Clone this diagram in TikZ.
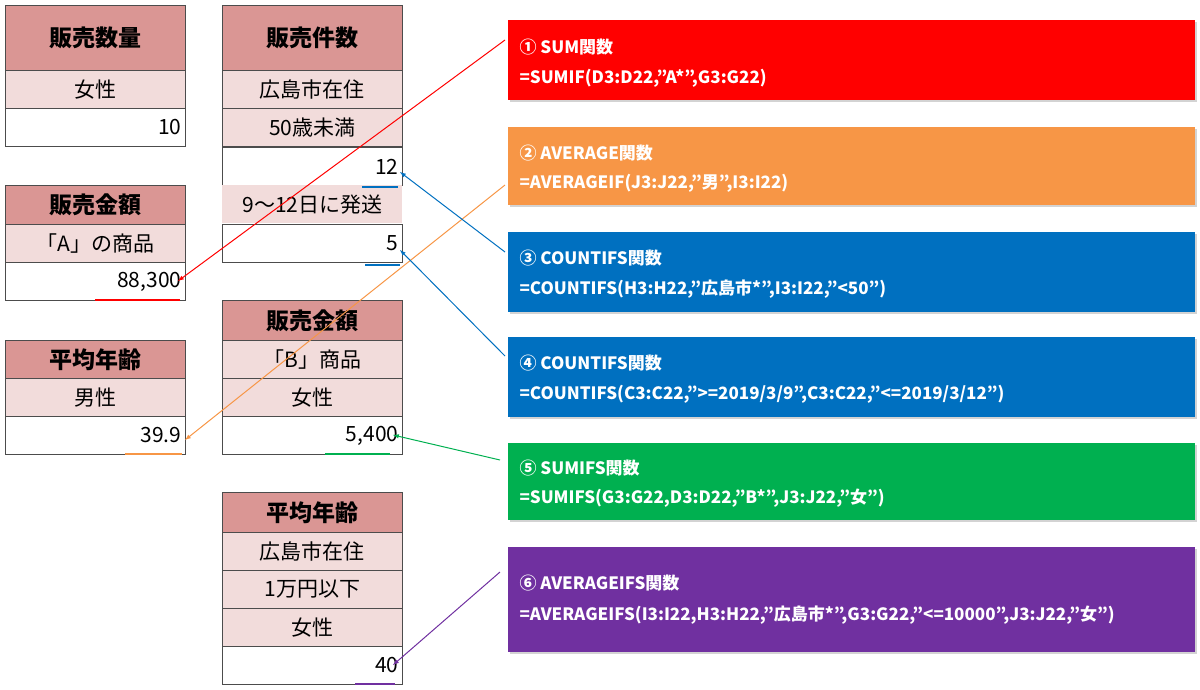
\documentclass[tikz,border=0pt]{standalone}
\usepackage{fontspec}
\setmainfont{Noto Sans CJK JP}
\usetikzlibrary{shadows}
\definecolor{hd}{HTML}{DA9694}
\definecolor{lt}{HTML}{F2DCDB}
\definecolor{cred}{HTML}{FF0000}
\definecolor{corg}{HTML}{F79646}
\definecolor{cblu}{HTML}{0070C0}
\definecolor{cgrn}{HTML}{00B050}
\definecolor{cpur}{HTML}{7030A0}
\begin{document}
\begin{tikzpicture}[x=1pt,y=-1pt,
 cell/.style={draw=black!70,line width=0.8pt,anchor=north west,minimum width=180pt,inner sep=0pt,font=\fontsize{21}{21}\selectfont},
 hdr/.style={cell,fill=hd,font=\fontsize{23}{23}\selectfont\bfseries,minimum height=65pt},
 sub/.style={cell,fill=lt,minimum height=38pt},
 val/.style={cell,fill=white,minimum height=38pt,text width=172pt,align=right},
 fbox/.style={anchor=north west,minimum width=687pt,inner sep=0pt,text=white,drop shadow={opacity=0.35,shadow xshift=2pt,shadow yshift=-2pt}},
 ftxt/.style={anchor=west,text=white,font=\fontsize{17}{17}\selectfont\bfseries},
 arr/.style={-latex,line width=1pt},
 ul/.style={line width=2pt}]
\useasboundingbox (0,0) rectangle (1200,689);
% column 1
\node[hdr] (t1h) at (5,5) {販売数量};
\node[sub] (t1a) at (5,70) {女性};
\node[val] (t1v) at (5,108) {10};
\node[hdr,minimum height=39pt] (t2h) at (5,185) {販売金額};
\node[sub] (t2a) at (5,224) {「A」の商品};
\node[val] (t2v) at (5,262) {88,300};
\node[hdr,minimum height=38pt] (t3h) at (5,340) {平均年齢};
\node[sub] (t3a) at (5,378) {男性};
\node[val] (t3v) at (5,416) {39.9};
% column 2
\node[hdr] (u1h) at (222,5) {販売件数};
\node[sub] (u1a) at (222,70) {広島市在住};
\node[sub] (u1b) at (222,108) {50歳未満};
\node[val] (u1v) at (222,147) {12};
\node[sub,draw=none] (u1c) at (222,185) {9～12日に発送};
\node[val] (u1w) at (222,224) {5};
\node[hdr,minimum height=40pt] (u2h) at (222,300) {販売金額};
\node[sub] (u2a) at (222,340) {「B」商品};
\node[sub] (u2b) at (222,378) {女性};
\node[val] (u2v) at (222,416) {5,400};
\node[hdr,minimum height=40pt] (u3h) at (222,492) {平均年齢};
\node[sub] (u3a) at (222,532) {広島市在住};
\node[sub] (u3b) at (222,570) {1万円以下};
\node[sub] (u3c) at (222,608) {女性};
\node[val] (u3v) at (222,646) {40};
% underlines
\draw[ul,cred] (95,300) -- (180,300);
\draw[ul,corg] (125,454) -- (182,454);
\draw[ul,cblu] (362,187) -- (398,187);
\draw[ul,cblu] (365,265) -- (400,265);
\draw[ul,cgrn] (325,454) -- (390,454);
\draw[ul,cpur] (355,684) -- (395,684);
% boxes
\node[fbox,fill=cred,minimum height=80pt] (b1) at (508,20) {};
\node[fbox,fill=corg,minimum height=78pt] (b2) at (508,127) {};
\node[fbox,fill=cblu,minimum height=80pt] (b3) at (508,232) {};
\node[fbox,fill=cblu,minimum height=80pt] (b4) at (508,337) {};
\node[fbox,fill=cgrn,minimum height=77pt] (b5) at (508,443) {};
\node[fbox,fill=cpur,minimum height=105pt] (b6) at (508,547) {};
\node[ftxt] (b1t) at (516,47) {① SUM関数};
\node[ftxt] (b1f) at (516,78) {=SUMIF(D3:D22,"A*",G3:G22)};
\node[ftxt] (b2t) at (516,153) {② AVERAGE関数};
\node[ftxt] (b2f) at (516,183) {=AVERAGEIF(J3:J22,"男",I3:I22)};
\node[ftxt] (b3t) at (516,258) {③ COUNTIFS関数};
\node[ftxt] (b3f) at (516,289) {=COUNTIFS(H3:H22,"広島市*",I3:I22,"<50")};
\node[ftxt] (b4t) at (516,363) {④ COUNTIFS関数};
\node[ftxt] (b4f) at (516,394) {=COUNTIFS(C3:C22,">=2019/3/9",C3:C22,"<=2019/3/12")};
\node[ftxt] (b5t) at (516,468) {⑤ SUMIFS関数};
\node[ftxt] (b5f) at (516,498) {=SUMIFS(G3:G22,D3:D22,"B*",J3:J22,"女")};
\node[ftxt] (b6t) at (516,583) {⑥ AVERAGEIFS関数};
\node[ftxt] (b6f) at (516,615) {=AVERAGEIFS(I3:I22,H3:H22,"広島市*",G3:G22,"<=10000",J3:J22,"女")};
% arrows
\coordinate (s1) at (505,40); \coordinate (e1) at (178,281);
\coordinate (s2) at (505,185); \coordinate (e2) at (185,440);
\coordinate (s3) at (505,252); \coordinate (e3) at (400,172);
\coordinate (s4) at (505,356); \coordinate (e4) at (400,250);
\coordinate (s5) at (500,460); \coordinate (e5) at (393,435);
\coordinate (s6) at (500,572); \coordinate (e6) at (393,665);
\draw[arr,cred] (s1) -- (e1);
\draw[arr,corg] (s2) -- (e2);
\draw[arr,cblu] (s3) -- (e3);
\draw[arr,cblu] (s4) -- (e4);
\draw[arr,cgrn] (s5) -- (e5);
\draw[arr,cpur] (s6) -- (e6);
\end{tikzpicture}
\end{document}
